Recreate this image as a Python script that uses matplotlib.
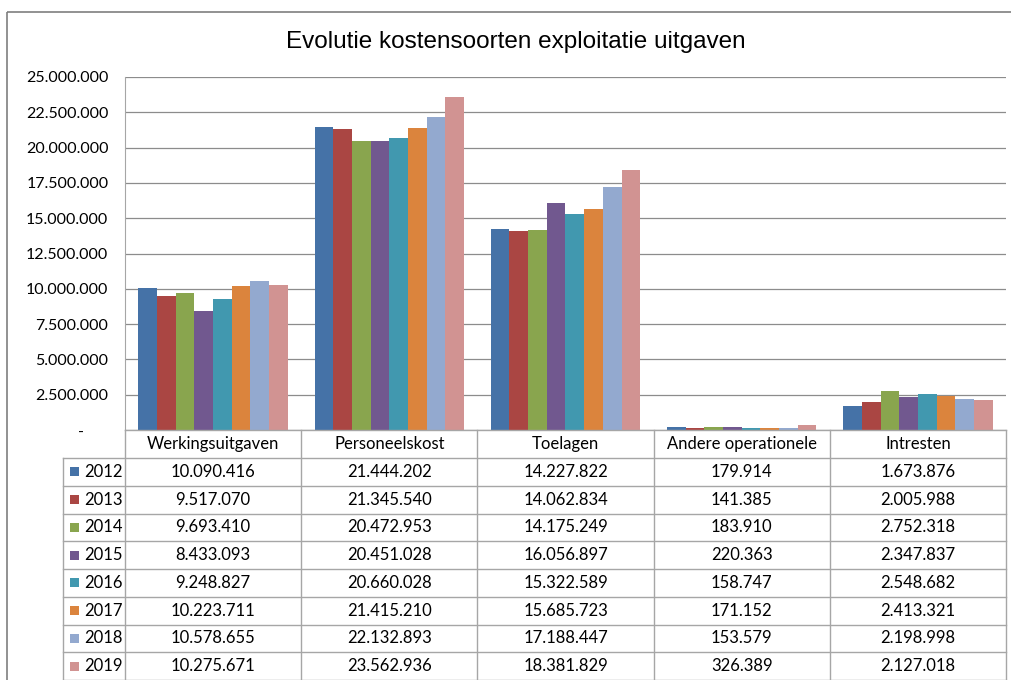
import matplotlib
matplotlib.use("Agg")
import matplotlib.pyplot as plt
from matplotlib.patches import Rectangle
import numpy as np

categories = ["Werkingsuitgaven", "Personeelskost", "Toelagen", "Andere operationele", "Intresten"]
years = ["2012", "2013", "2014", "2015", "2016", "2017", "2018", "2019"]
y2012 = [10090416, 21444202, 14227822, 179914, 1673876]
y2013 = [9517070, 21345540, 14062834, 141385, 2005988]
y2014 = [9693410, 20472953, 14175249, 183910, 2752318]
y2015 = [8433093, 20451028, 16056897, 220363, 2347837]
y2016 = [9248827, 20660028, 15322589, 158747, 2548682]
y2017 = [10223711, 21415210, 15685723, 171152, 2413321]
y2018 = [10578655, 22132893, 17188447, 153579, 2198998]
y2019 = [10275671, 23562936, 18381829, 326389, 2127018]
series = [y2012, y2013, y2014, y2015, y2016, y2017, y2018, y2019]
y_ticks = [0, 2500000, 5000000, 7500000, 10000000, 12500000, 15000000, 17500000, 20000000, 22500000, 25000000]

colors = ["#4572A7", "#AA4643", "#89A54E", "#71588F", "#4198AF", "#DB843D", "#93A9CF", "#D19392"]

W, H = 1012, 680
FONT = "Lato"
FS = 12
GRID = "#a6a6a6"


def dutch(v):
    return f"{v:,}".replace(",", ".")


fig = plt.figure(figsize=(W / 100, H / 100), dpi=100)

# pixel layout
px_left, px_right = 125, 1006
px_top, px_base = 77, 430
leg_left = 63
row_h = 27.75
head_h = 28

ax = fig.add_axes([px_left / W, (H - px_base) / H, (px_right - px_left) / W, (px_base - px_top) / H])
x = np.arange(len(categories))
bw = 0.106
for i, (yr, vals) in enumerate(zip(years, series)):
    ax.bar(x + (i - 3.5) * bw, vals, bw, color=colors[i], label=yr, zorder=3)

ax.set_xlim(-0.5, len(categories) - 0.5)
ax.set_ylim(0, 25000000)
ax.set_yticks(y_ticks)
ax.set_yticklabels(["-      "] + [dutch(t) for t in y_ticks[1:]], fontfamily=FONT, fontsize=11.5)
ax.tick_params(axis="y", length=0, pad=12)
ax.set_xticks([])
ax.yaxis.grid(True, color="#8c8c8c", lw=0.9, zorder=0)
for s in ["top", "right", "bottom"]:
    ax.spines[s].set_visible(False)
ax.spines["left"].set_color(GRID)

# title
fig.text(516 / W, 1 - 42 / H, "Evolutie kostensoorten exploitatie uitgaven",
         ha="center", va="center", fontsize=17.5, fontfamily="Liberation Sans")

# data table under the chart
tab = fig.add_axes([0, 0, 1, 1], zorder=5)
tab.set_xlim(0, W)
tab.set_ylim(H, 0)
tab.axis("off")
tab.patch.set_alpha(0)

col_w = (px_right - px_left) / len(categories)
col_x = [px_left + k * col_w for k in range(len(categories) + 1)]
head_bot = px_base + head_h
row_y = [head_bot + r * row_h for r in range(len(years) + 1)]

lw = 1.0
tab.plot([px_left, px_right], [px_base, px_base], color=GRID, lw=lw)
for yy in row_y:
    tab.plot([leg_left, px_right], [yy, yy], color=GRID, lw=lw)
for xx in col_x:
    tab.plot([xx, xx], [px_base, row_y[-1]], color=GRID, lw=lw)
tab.plot([leg_left, leg_left], [head_bot, row_y[-1]], color=GRID, lw=lw)

for k, name in enumerate(categories):
    tab.text((col_x[k] + col_x[k + 1]) / 2, px_base + head_h / 2, name,
             ha="center", va="center", fontsize=FS, fontfamily=FONT)

for r, (yr, vals) in enumerate(zip(years, series)):
    cy = row_y[r] + row_h / 2
    tab.add_patch(Rectangle((70, cy - 4.5), 9, 9, color=colors[r], lw=0))
    tab.text(84, cy, yr, ha="left", va="center", fontsize=FS, fontfamily=FONT)
    for k, v in enumerate(vals):
        tab.text((col_x[k] + col_x[k + 1]) / 2, cy, dutch(v),
                 ha="center", va="center", fontsize=FS, fontfamily=FONT)

# outer chart border
tab.add_patch(Rectangle((7, 12), W, H, fill=False, edgecolor="#7f7f7f", lw=1.2, clip_on=False))

fig.savefig("out.png", dpi=100)
